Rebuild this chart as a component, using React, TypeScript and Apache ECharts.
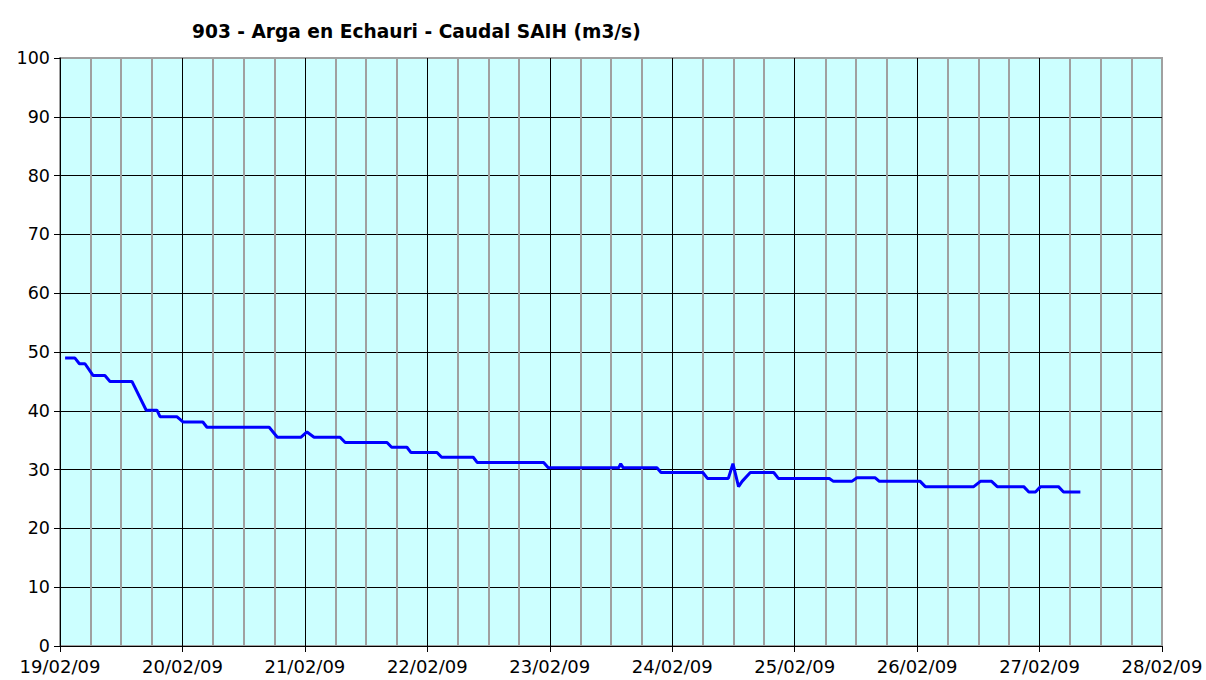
import React, { useEffect, useRef } from "react";
import * as echarts from "echarts";

// hours since 19/02/09 00:00
const hours = [
  1.0, 2.9, 3.8, 4.9, 6.5, 8.8, 9.8, 14.1, 16.9, 19.0, 19.6, 22.9, 24.1, 28.0, 28.8, 41.0,
  42.6, 47.2, 48.4, 49.8, 54.9, 55.9, 64.1, 65.0, 68.0, 68.8, 73.9, 74.8, 81.0, 81.8, 94.8,
  95.7, 109.5, 109.9, 110.4, 117.0, 117.8, 126.0, 126.9, 131.0, 131.9, 133.0, 133.7, 135.3,
  139.9, 140.8, 150.8, 151.6, 155.2, 156.2, 159.8, 160.6, 168.6, 169.6, 179.1, 180.4, 182.6,
  183.7, 188.9, 189.9, 191.2, 192.2, 195.7, 196.7, 200.0,
];
const flows = [
  49.0, 49.0, 48.0, 48.0, 46.0, 46.0, 45.0, 45.0, 40.1, 40.1, 39.0, 39.0, 38.1, 38.1, 37.2, 37.2,
  35.5, 35.5, 36.4, 35.5, 35.5, 34.6, 34.6, 33.8, 33.8, 32.9, 32.9, 32.1, 32.1, 31.2, 31.2,
  30.3, 30.3, 31.0, 30.3, 30.3, 29.5, 29.5, 28.5, 28.5, 31.0, 27.1, 28.0, 29.5,
  29.5, 28.5, 28.5, 28.0, 28.0, 28.6, 28.6, 28.0, 28.0, 27.1, 27.1, 28.0, 28.0,
  27.1, 27.1, 26.2, 26.2, 27.1, 27.1, 26.2, 26.2,
];
const dayLabels = [
  "19/02/09", "20/02/09", "21/02/09", "22/02/09", "23/02/09",
  "24/02/09", "25/02/09", "26/02/09", "27/02/09", "28/02/09",
];
const titleText = "903 - Arga en Echauri - Caudal SAIH (m3/s)";

const FONT = "DejaVu Sans";

export default function App() {
  const ref = useRef<HTMLDivElement>(null);
  useEffect(() => {
    if (!ref.current) return;
    const chart = echarts.init(ref.current, null, { renderer: "svg" });
    chart.setOption({
      animation: false,
      backgroundColor: "#ffffff",
      title: {
        text: titleText,
        left: 187,
        top: 17,
        textStyle: { fontFamily: FONT, fontSize: 18.6, fontWeight: "bold", color: "#000" },
      },
      grid: {
        left: 60,
        right: 44,
        top: 58,
        bottom: 34,
        show: true,
        backgroundColor: "#CCFFFF",
        borderColor: "#A0A0A0",
        borderWidth: 2,
      },
      xAxis: {
        type: "value",
        min: 0,
        max: 216,
        interval: 24,
        axisLine: { show: true, onZero: false, lineStyle: { color: "#000", width: 1 } },
        axisTick: { show: true, length: 6, lineStyle: { color: "#000" } },
        axisLabel: {
          margin: 12,
          fontFamily: FONT,
          fontSize: 18,
          lineHeight: 16,
          color: "#000",
          formatter: (v: number) => dayLabels[Math.round(v / 24)] ?? "",
        },
        splitLine: { show: true, showMaxLine: false, showMinLine: false, lineStyle: { color: "#000", width: 1 } },
        minorTick: { show: false, splitNumber: 4 },
        minorSplitLine: { show: true, lineStyle: { color: "#A0A0A0", width: 2 } },
      },
      yAxis: {
        type: "value",
        min: 0,
        max: 100,
        interval: 10,
        axisLine: { show: true, lineStyle: { color: "#000", width: 1 } },
        axisTick: { show: true, length: 6, lineStyle: { color: "#000" } },
        axisLabel: { margin: 10, fontFamily: FONT, fontSize: 17.5, lineHeight: 14, color: "#000" },
        splitLine: { show: true, showMaxLine: false, showMinLine: false, lineStyle: { color: "#000", width: 1 } },
      },
      series: [
        {
          type: "line",
          data: hours.map((h, i) => [h, flows[i]]),
          showSymbol: false,
          lineStyle: { color: "#0000FF", width: 3 },
          itemStyle: { color: "#0000FF" },
        },
      ],
    });
    return () => chart.dispose();
  }, []);
  return (
    <div
      ref={ref}
      style={{ position: "absolute", left: 0, top: 0, width: 1206, height: 680 }}
    />
  );
}
